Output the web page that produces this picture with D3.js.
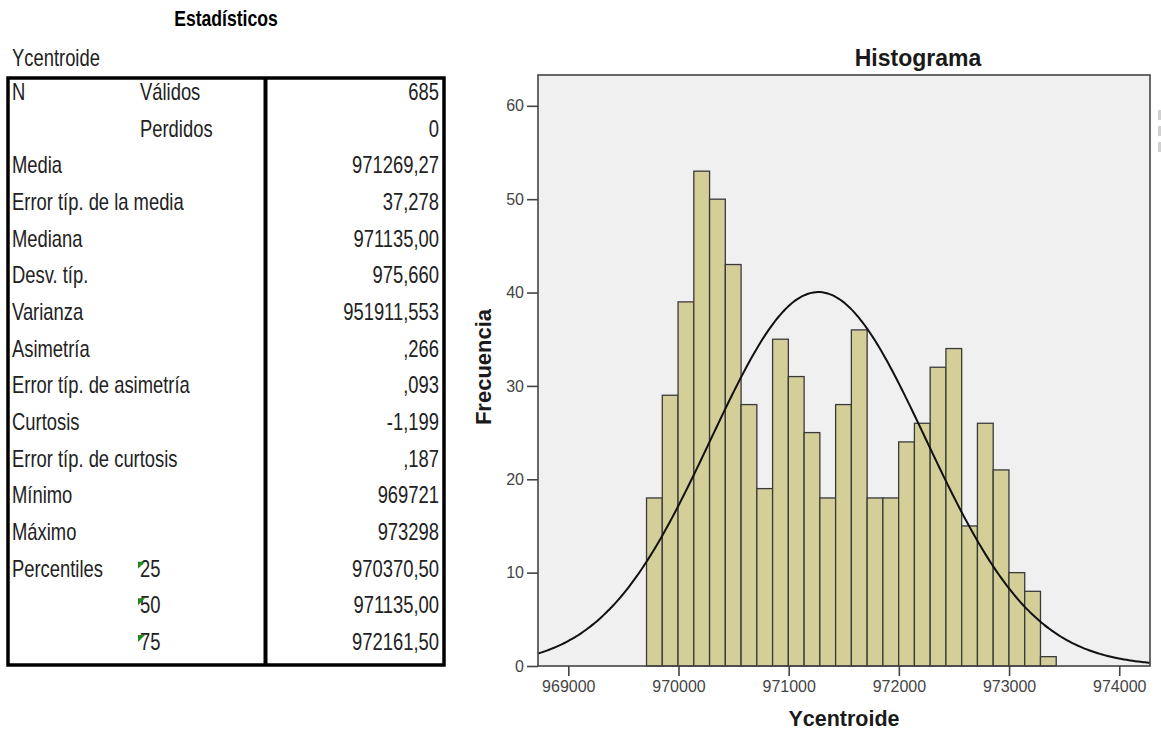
<!DOCTYPE html>
<html>
<head>
<meta charset="utf-8">
<script src="https://cdn.jsdelivr.net/npm/d3@7"></script>
<style>
  body { margin: 0; background: #fff; }
  .narrow { font-family: "Liberation Sans", Arial, sans-serif; }
  .sans { font-family: "Liberation Sans", Arial, sans-serif; }
</style>
</head>
<body>
<div id="wrapper"></div>
<script>
// statistics table
const statLabels = ["N", "", "Media", "Error típ. de la media", "Mediana", "Desv. típ.",
  "Varianza", "Asimetría", "Error típ. de asimetría", "Curtosis", "Error típ. de curtosis",
  "Mínimo", "Máximo", "Percentiles", "", ""];
const statSubLabels = ["Válidos", "Perdidos", "", "", "", "", "", "", "", "", "", "", "",
  "25", "50", "75"];
const statValues = ["685", "0", "971269,27", "37,278", "971135,00", "975,660", "951911,553",
  ",266", ",093", "-1,199", ",187", "969721", "973298", "970370,50", "971135,00", "972161,50"];

// histogram
const binStart = 969710;
const binWidth = 143;
const binCounts = [18, 29, 39, 53, 50, 43, 28, 19, 35, 31, 25, 18, 28, 36, 18, 18, 24, 26,
  32, 34, 15, 26, 21, 10, 8, 1];
const xTicks = [969000, 970000, 971000, 972000, 973000, 974000];
const yTicks = [0, 10, 20, 30, 40, 50, 60];
const fitMean = 971269.27;
const fitSd = 975.66;
const fitN = 685;

const squeeze = 0.8 // the table font is a condensed one

const svg = d3.select("#wrapper")
  .append("svg")
  .attr("width", 1161)
  .attr("height", 732)

// ---- table ----
const table = {left: 8, right: 444, top: 78, bottom: 665, divider: 265.5}
const rowY = d3.scaleLinear()
  .domain([0, statLabels.length - 1])
  .range([100, 650])

const narrowText = (sel, x, y) => sel
  .attr("class", "narrow")
  .attr("transform", `translate(${x},${y}) scale(${squeeze},1)`)

svg.append("text")
  .call(narrowText, 226, 26)
  .attr("text-anchor", "middle")
  .attr("font-weight", "bold")
  .attr("font-size", 22)
  .text("Estadísticos")

svg.append("text")
  .call(narrowText, 12, 66)
  .attr("font-size", 23)
  .attr("fill", "#222")
  .text("Ycentroide")

const rows = svg.append("g")
  .selectAll("g")
  .data(statValues)
  .join("g")
  .attr("font-size", 23)
  .attr("fill", "#222")

rows.each(function(d, i) {
  const g = d3.select(this)
  g.append("text").call(narrowText, 12, rowY(i)).text(statLabels[i])
  g.append("text").call(narrowText, 140, rowY(i)).text(statSubLabels[i])
  g.append("text").call(narrowText, 439, rowY(i)).attr("text-anchor", "end").text(d)
  // little green footnote flag on the percentile rows
  if (/^\d+$/.test(statSubLabels[i])) {
    const y = rowY(i) - 15
    g.append("path")
      .attr("d", `M138,${y}L145,${y}L138,${y + 7}Z`)
      .attr("fill", "#1d8a1d")
  }
})

svg.append("rect")
  .attr("x", table.left)
  .attr("y", table.top)
  .attr("width", table.right - table.left)
  .attr("height", table.bottom - table.top)
  .attr("fill", "none")
  .attr("stroke", "#000")
  .attr("stroke-width", 3.5)

svg.append("line")
  .attr("x1", table.divider).attr("x2", table.divider)
  .attr("y1", table.top).attr("y2", table.bottom)
  .attr("stroke", "#000")
  .attr("stroke-width", 4)

// ---- histogram ----
let dimensions = {
  left: 538,
  right: 1150,
  top: 75,
  bottom: 666,
}

const xScale = d3.scaleLinear()
  .domain([968725, 974279])
  .range([dimensions.left, dimensions.right])

const yScale = d3.scaleLinear()
  .domain([0, 63.3])
  .range([dimensions.bottom, dimensions.top])

svg.append("rect")
  .attr("x", dimensions.left)
  .attr("y", dimensions.top)
  .attr("width", dimensions.right - dimensions.left)
  .attr("height", dimensions.bottom - dimensions.top)
  .attr("fill", "#f0f0f0")

svg.append("clipPath")
  .attr("id", "plot-clip")
  .append("rect")
  .attr("x", dimensions.left)
  .attr("y", dimensions.top)
  .attr("width", dimensions.right - dimensions.left)
  .attr("height", dimensions.bottom - dimensions.top)

svg.append("g")
  .selectAll("rect")
  .data(binCounts)
  .join("rect")
  .attr("x", (d, i) => xScale(binStart + i * binWidth))
  .attr("width", (d, i) => xScale(binStart + (i + 1) * binWidth) - xScale(binStart + i * binWidth))
  .attr("y", d => yScale(d))
  .attr("height", d => yScale(0) - yScale(d))
  .attr("fill", "#d4cf98")
  .attr("stroke", "#3a3a3a")
  .attr("stroke-width", 1.3)

// fitted normal curve from the table's mean and sd
const fitScale = fitN * binWidth / (fitSd * Math.sqrt(2 * Math.PI))
const curveX = d3.range(xScale.domain()[0], xScale.domain()[1] + 20, 20)
const lineGenerator = d3.line()
  .x(d => xScale(d))
  .y(d => yScale(fitScale * Math.exp(-0.5 * ((d - fitMean) / fitSd) ** 2)))
  .curve(d3.curveBasis)

svg.append("path")
  .attr("d", lineGenerator(curveX))
  .attr("clip-path", "url(#plot-clip)")
  .attr("fill", "none")
  .attr("stroke", "#111")
  .attr("stroke-width", 2)

svg.append("rect")
  .attr("x", dimensions.left)
  .attr("y", dimensions.top)
  .attr("width", dimensions.right - dimensions.left)
  .attr("height", dimensions.bottom - dimensions.top)
  .attr("fill", "none")
  .attr("stroke", "#444")
  .attr("stroke-width", 1.6)

const yAxis = svg.append("g")
  .attr("transform", `translate(${dimensions.left},0)`)
  .call(d3.axisLeft(yScale).tickValues(yTicks).tickSize(11).tickSizeOuter(0).tickPadding(3))
yAxis.select(".domain").remove()

const xAxis = svg.append("g")
  .attr("transform", `translate(0,${dimensions.bottom})`)
  .call(d3.axisBottom(xScale).tickValues(xTicks).tickFormat(d3.format("d")).tickSize(10).tickSizeOuter(0).tickPadding(5))
xAxis.select(".domain").remove()

svg.selectAll(".tick line").attr("stroke", "#444").attr("stroke-width", 1.6)
svg.selectAll(".tick text")
  .attr("class", "sans")
  .attr("font-size", 16)
  .attr("fill", "#444")

svg.append("text")
  .attr("class", "sans")
  .attr("x", 918)
  .attr("y", 66)
  .attr("text-anchor", "middle")
  .attr("font-weight", "bold")
  .attr("font-size", 23)
  .attr("fill", "#1a1a1a")
  .text("Histograma")

svg.append("text")
  .attr("class", "sans")
  .attr("transform", "translate(491,367) rotate(-90)")
  .attr("text-anchor", "middle")
  .attr("font-weight", "bold")
  .attr("font-size", 22)
  .attr("fill", "#1a1a1a")
  .text("Frecuencia")

svg.append("text")
  .attr("class", "sans")
  .attr("x", (dimensions.left + dimensions.right) / 2)
  .attr("y", 726)
  .attr("text-anchor", "middle")
  .attr("font-weight", "bold")
  .attr("font-size", 21.5)
  .attr("fill", "#1a1a1a")
  .text("Ycentroide")

// cut-off legend swatches at the right edge
svg.append("g")
  .selectAll("rect")
  .data([110, 126, 142])
  .join("rect")
  .attr("x", 1158)
  .attr("y", d => d)
  .attr("width", 3)
  .attr("height", 10)
  .attr("fill", "#d0d0d0")
</script>
</body>
</html>
